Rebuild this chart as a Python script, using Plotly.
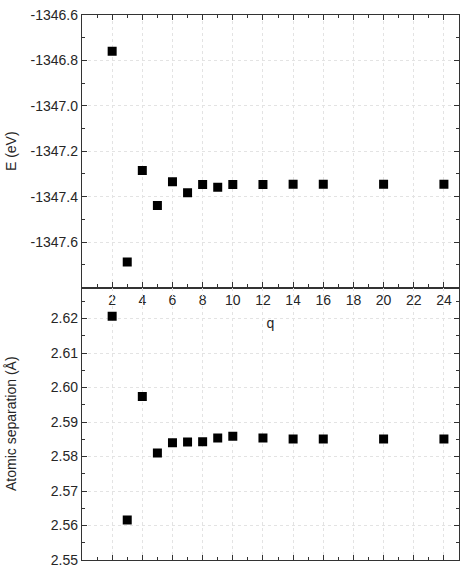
import plotly.graph_objects as go

q = [2, 3, 4, 5, 6, 7, 8, 9, 10, 12, 14, 16, 20, 24]
energy = [-1346.760, -1347.688, -1347.285, -1347.439, -1347.334, -1347.383, -1347.346,
          -1347.359, -1347.346, -1347.346, -1347.345, -1347.345, -1347.345, -1347.345]
separation = [2.6207, 2.5616, 2.5974, 2.5810, 2.5840, 2.5842, 2.5843,
              2.5854, 2.5859, 2.5854, 2.5851, 2.5851, 2.5851, 2.5851]

x_ticks = list(range(2, 25, 2))
e_tickvals = [-1346.6, -1346.8, -1347.0, -1347.2, -1347.4, -1347.6]
e_ticktext = ["-1346.6", "-1346.8", "-1347.0", "-1347.2", "-1347.4", "-1347.6"]
s_tickvals = [2.55, 2.56, 2.57, 2.58, 2.59, 2.60, 2.61, 2.62]
s_ticktext = ["2.55", "2.56", "2.57", "2.58", "2.59", "2.60", "2.61", "2.62"]

FONT = "Liberation Sans, Arial, sans-serif"
TXT = "#262626"
GRID = "#e3e3e3"

fig = go.Figure()
marker = dict(symbol="square", size=9, color="black", line=dict(width=0))
fig.add_trace(go.Scatter(x=q, y=energy, mode="markers", marker=marker,
                         xaxis="x", yaxis="y", showlegend=False))
fig.add_trace(go.Scatter(x=q, y=separation, mode="markers", marker=marker,
                         xaxis="x2", yaxis="y2", showlegend=False))

common_axis = dict(showline=True, linecolor="#333", linewidth=1.3,
                   ticks="inside", tickcolor="#333", ticklen=5, tickwidth=1,
                   showgrid=True, gridcolor=GRID, griddash="dot", gridwidth=1,
                   zeroline=False, tickfont=dict(family=FONT, size=14, color=TXT))

fig.update_layout(
    width=467, height=575,
    margin=dict(l=82, r=7, t=12, b=9),
    plot_bgcolor="white", paper_bgcolor="white",
    font=dict(family=FONT, size=14, color=TXT),
    xaxis=dict(**common_axis, range=[0, 25], tickvals=x_ticks,
               ticktext=[str(v) for v in x_ticks], mirror="ticks",
               domain=[0, 1], anchor="y",
               minor=dict(dtick=1, tick0=0, ticks="inside", ticklen=3,
                          tickcolor="#333", showgrid=False),
               title=dict(text="q", standoff=10, font=dict(size=14))),
    yaxis=dict(**common_axis, range=[-1347.8, -1346.6], domain=[0.5, 1],
               tickvals=e_tickvals, ticktext=e_ticktext, mirror="ticks",
               anchor="x",
               minor=dict(dtick=0.1, tick0=-1346.6, ticks="inside", ticklen=3,
                          tickcolor="#333", showgrid=False),
               title=dict(text="E (eV)", standoff=10, font=dict(size=14))),
    xaxis2=dict(**common_axis, range=[0, 25], tickvals=x_ticks,
                showticklabels=False, mirror=True, domain=[0, 1], anchor="y2",
                minor=dict(dtick=1, tick0=0, ticks="inside", ticklen=3,
                           tickcolor="#333", showgrid=False)),
    yaxis2=dict(**common_axis, range=[2.55, 2.629], domain=[0, 0.5],
                tickvals=s_tickvals, ticktext=s_ticktext, mirror="ticks",
                anchor="x2",
                minor=dict(dtick=0.005, tick0=2.55, ticks="inside", ticklen=3,
                           tickcolor="#333", showgrid=False),
                title=dict(text="Atomic separation (Å)", standoff=30,
                           font=dict(size=14))),
)

fig.write_html("out.html")
